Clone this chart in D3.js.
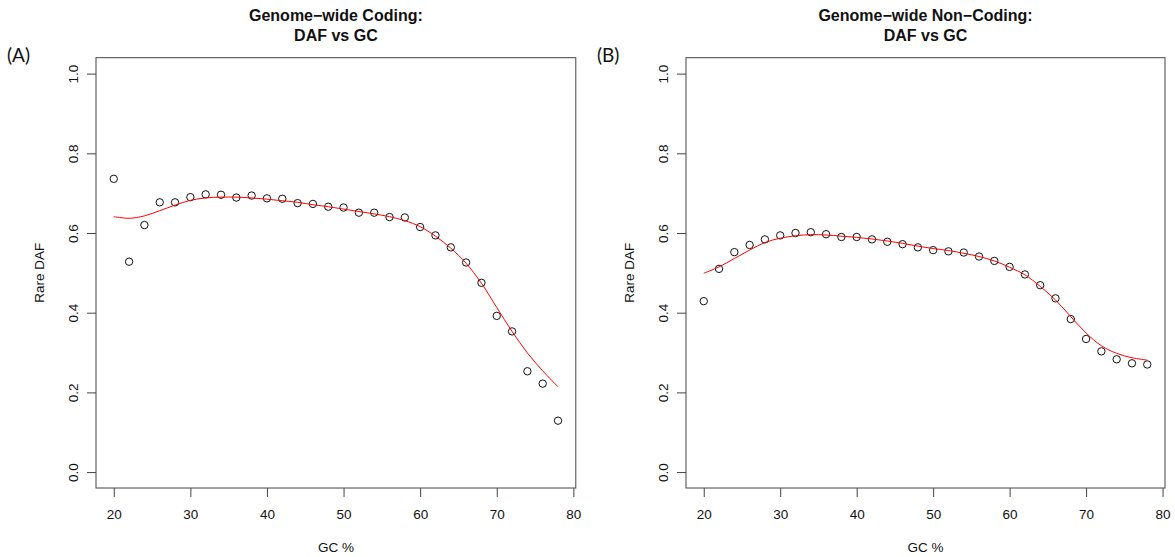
<!DOCTYPE html>
<html>
<head>
<meta charset="utf-8">
<script src="https://cdn.jsdelivr.net/npm/d3@7"></script>
<style>
  body { margin: 0; background: #fff; }
  svg text { font-family: "Liberation Sans", Arial, sans-serif; fill: #111; }
</style>
</head>
<body>
<svg id="chart" width="1175" height="557"></svg>
<script>
const gcPercent = [20, 22, 24, 26, 28, 30, 32, 34, 36, 38, 40, 42, 44, 46, 48, 50,
  52, 54, 56, 58, 60, 62, 64, 66, 68, 70, 72, 74, 76, 78]

const codingDaf = [0.736, 0.528, 0.620, 0.677, 0.677, 0.690, 0.697, 0.696, 0.689, 0.694,
  0.687, 0.686, 0.675, 0.673, 0.666, 0.664, 0.651, 0.651, 0.640, 0.639,
  0.615, 0.594, 0.564, 0.526, 0.475, 0.392, 0.353, 0.253, 0.222, 0.129]
const codingFit = [0.641, 0.637, 0.643, 0.656, 0.670, 0.682, 0.688, 0.690, 0.690, 0.688,
  0.685, 0.681, 0.677, 0.671, 0.666, 0.660, 0.654, 0.648, 0.641, 0.631,
  0.616, 0.592, 0.562, 0.524, 0.474, 0.413, 0.353, 0.299, 0.254, 0.214]

const nonCodingDaf = [0.429, 0.510, 0.552, 0.570, 0.584, 0.594, 0.600, 0.602, 0.597, 0.590,
  0.590, 0.584, 0.578, 0.572, 0.564, 0.557, 0.554, 0.551, 0.541, 0.530,
  0.515, 0.496, 0.469, 0.436, 0.384, 0.334, 0.303, 0.283, 0.273, 0.270]
const nonCodingFit = [0.499, 0.515, 0.536, 0.557, 0.576, 0.587, 0.593, 0.596, 0.595, 0.592,
  0.589, 0.585, 0.580, 0.574, 0.567, 0.561, 0.556, 0.549, 0.541, 0.530,
  0.514, 0.495, 0.466, 0.432, 0.390, 0.349, 0.317, 0.298, 0.287, 0.281]

const xTicks = [20, 30, 40, 50, 60, 70, 80]
const yTicks = [0, 0.2, 0.4, 0.6, 0.8, 1.0]

const panels = [
  { tag: '(A)', title: ['Genome\u2212wide Coding:', 'DAF vs GC'], left: 96, right: 575.8, points: codingDaf, fit: codingFit },
  { tag: '(B)', title: ['Genome\u2212wide Non\u2212Coding:', 'DAF vs GC'], left: 686, right: 1165, points: nonCodingDaf, fit: nonCodingFit },
]

const plotTop = 57.7
const plotBottom = 488
const svg = d3.select('#chart')

panels.forEach(p => {
  // R-style 4% padding around data range
  const x = d3.scaleLinear().domain([17.68, 80.32]).range([p.left, p.right])
  const y = d3.scaleLinear().domain([-0.04, 1.04]).range([plotBottom, plotTop])
  const g = svg.append('g')
  const cx = (p.left + p.right) / 2

  g.append('text')
    .attr('x', p.left - 89).attr('y', 62)
    .style('font-family', 'Lato, "Open Sans", sans-serif')
    .style('font-size', '19px')
    .text(p.tag)

  g.selectAll('.title')
    .data(p.title)
    .enter().append('text')
    .attr('x', cx)
    .attr('y', (d, i) => 20.5 + i * 20.5)
    .attr('text-anchor', 'middle')
    .style('font-size', '16px')
    .style('font-weight', 'bold')
    .text(d => d)

  const xAxis = g.append('g')
    .attr('transform', `translate(0,${plotBottom})`)
    .call(d3.axisBottom(x).tickValues(xTicks).tickSize(9).tickPadding(12).tickFormat(d3.format('d')))
  xAxis.select('.domain').remove()

  const yAxis = g.append('g')
    .attr('transform', `translate(${p.left},0)`)
    .call(d3.axisLeft(y).tickValues(yTicks).tickSize(9).tickFormat(d3.format('.1f')))
  yAxis.select('.domain').remove()
  yAxis.selectAll('text')
    .attr('transform', 'rotate(-90)')
    .attr('x', 0).attr('y', -18.5).attr('dy', 0)
    .attr('text-anchor', 'middle')

  g.selectAll('.tick line').attr('stroke', '#444')
  g.selectAll('.tick text').style('font-size', '13.5px').style('font-family', '"Liberation Sans", Arial, sans-serif').attr('fill', '#111')

  g.append('rect')
    .attr('x', p.left).attr('y', plotTop)
    .attr('width', p.right - p.left).attr('height', plotBottom - plotTop)
    .attr('fill', 'none').attr('stroke', '#444').attr('stroke-width', 1)

  g.append('text')
    .attr('x', cx).attr('y', 551.5)
    .attr('text-anchor', 'middle')
    .style('font-size', '13.5px')
    .text('GC %')

  g.append('text')
    .attr('transform', `translate(${p.left - 52.5},${(plotTop + plotBottom) / 2}) rotate(-90)`)
    .attr('text-anchor', 'middle')
    .style('font-size', '13.5px')
    .text('Rare DAF')

  g.selectAll('.pt')
    .data(gcPercent)
    .enter().append('circle')
    .attr('cx', d => x(d))
    .attr('cy', (d, i) => y(p.points[i]))
    .attr('r', 3.7)
    .attr('fill', 'none')
    .attr('stroke', '#111')
    .attr('stroke-width', 1)

  const line = d3.line()
    .x(d => x(d))
    .y((d, i) => y(p.fit[i]))
    .curve(d3.curveCatmullRom.alpha(0.5))

  g.append('path')
    .datum(gcPercent)
    .attr('d', line)
    .attr('fill', 'none')
    .attr('stroke', '#ff0000')
    .attr('stroke-width', 1)
})
</script>
</body>
</html>
